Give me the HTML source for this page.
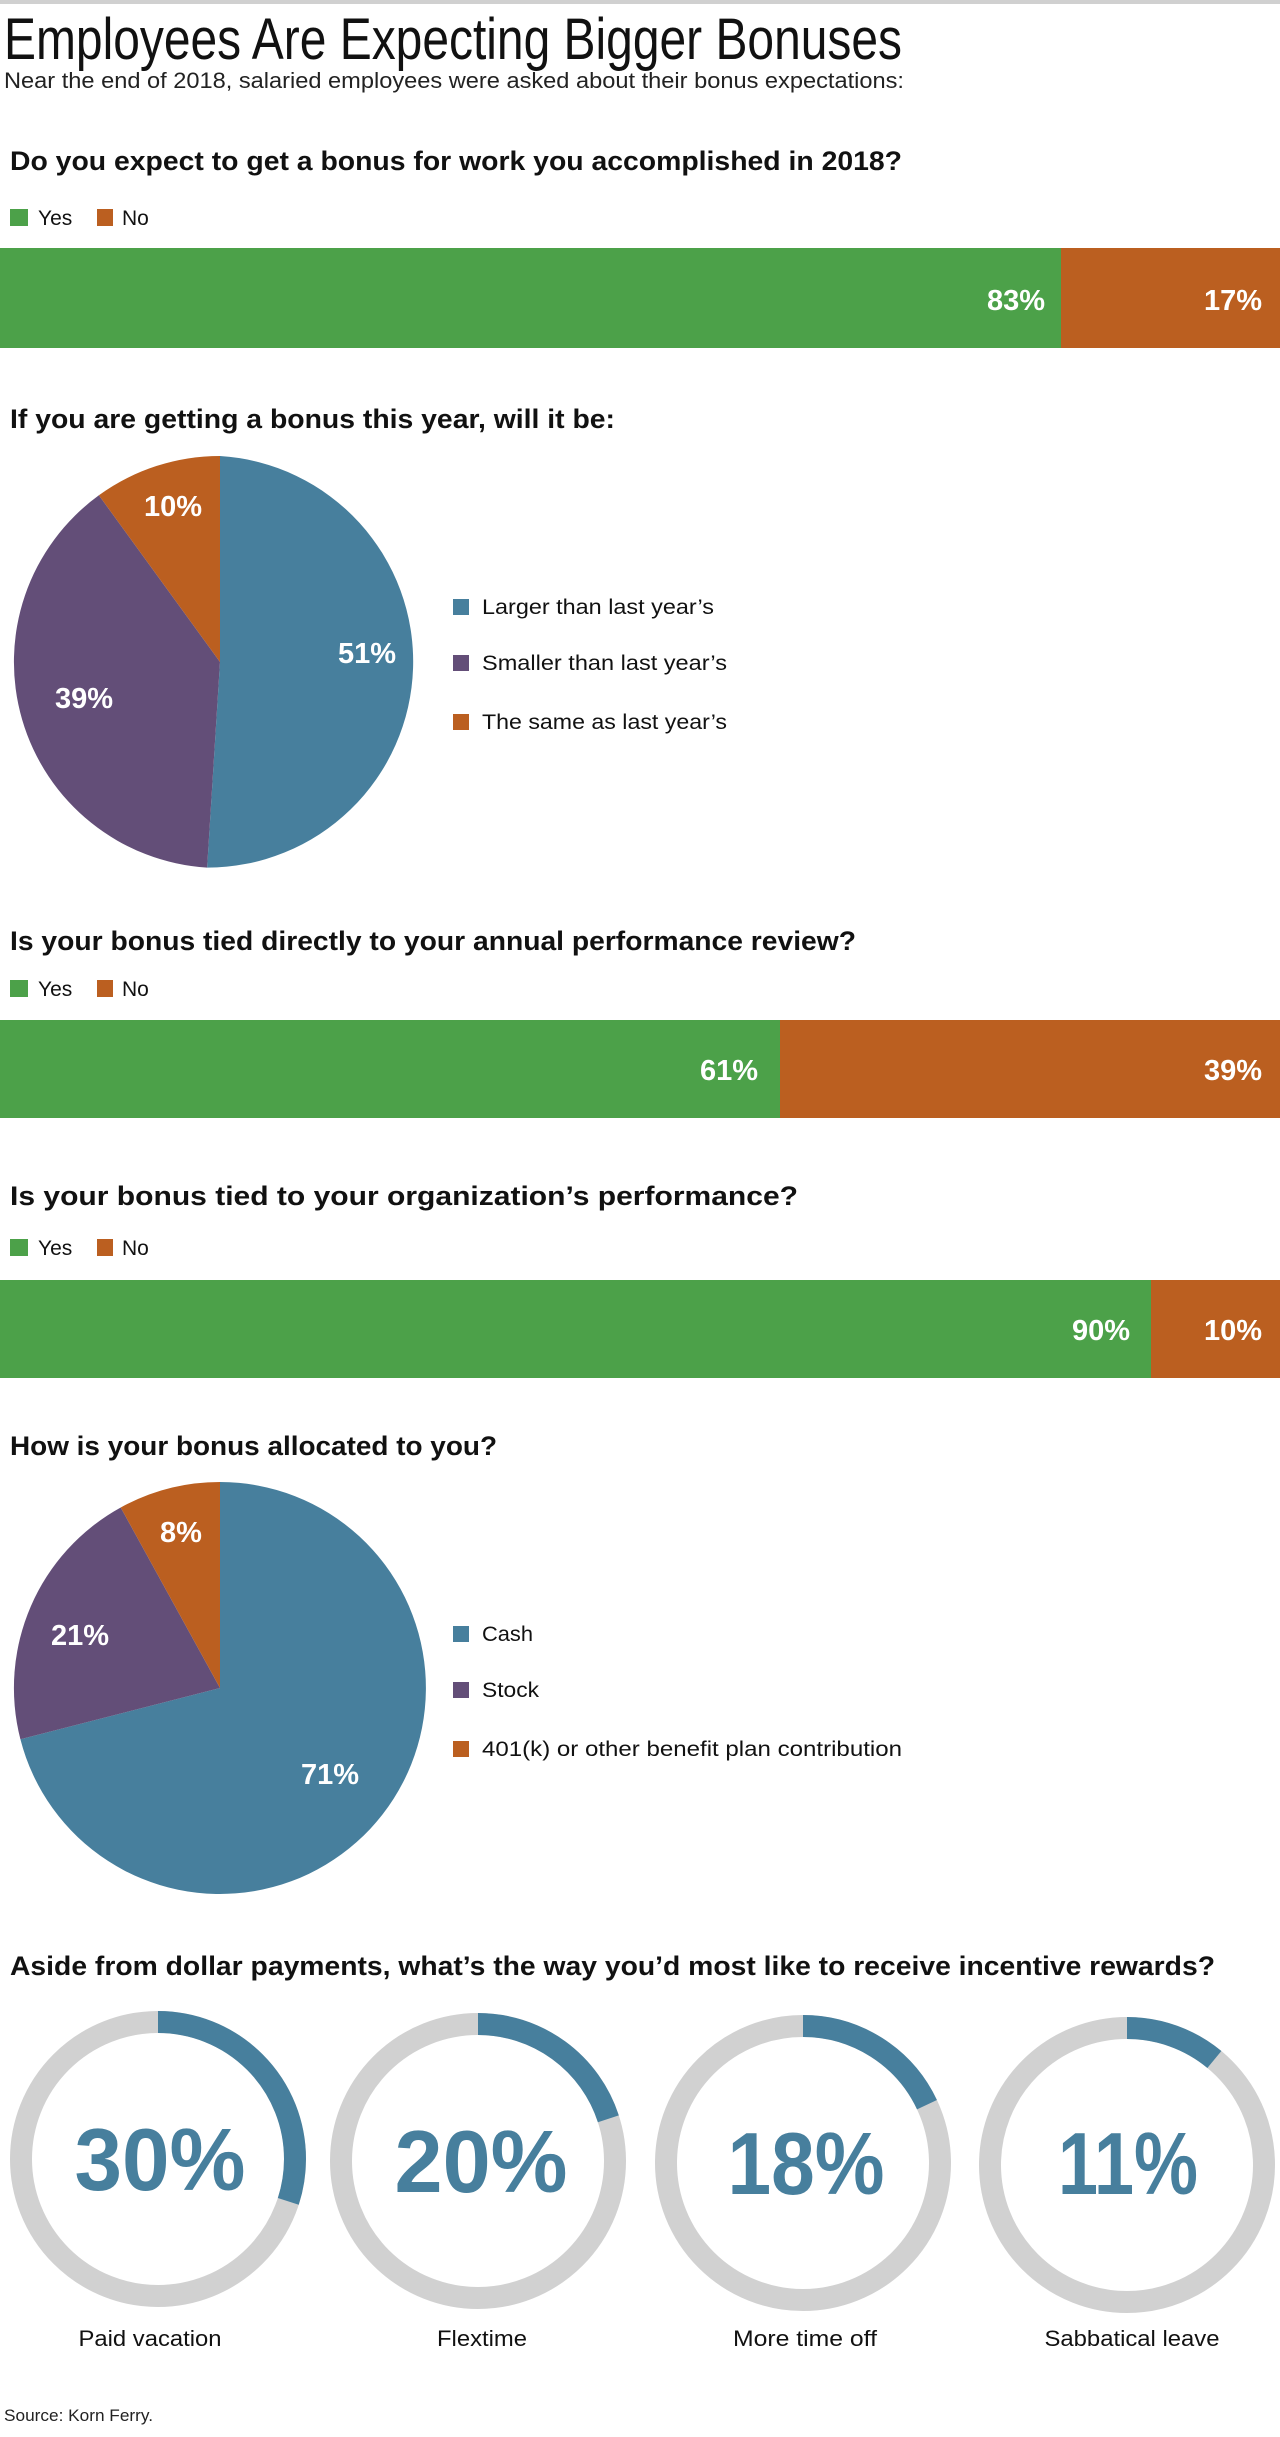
<!DOCTYPE html>
<html><head><meta charset="utf-8"><style>
html,body{margin:0;padding:0;background:#fff;}
svg{display:block;}
text{font-family:"Liberation Sans Narrow","Liberation Sans",sans-serif;}
.b{font-weight:bold;}
</style></head><body>
<svg width="1280" height="2437" viewBox="0 0 1280 2437" xmlns="http://www.w3.org/2000/svg">
<rect x="0" y="0" width="1280" height="4" fill="#d0d0d0"/>
<text x="4" y="59" font-size="58" fill="#111" textLength="898" lengthAdjust="spacingAndGlyphs">Employees Are Expecting Bigger Bonuses</text>
<text x="4" y="88" font-size="22" fill="#222" textLength="900" lengthAdjust="spacingAndGlyphs">Near the end of 2018, salaried employees were asked about their bonus expectations:</text>

<!-- Q1 -->
<text class="b" x="10" y="170" font-size="27" fill="#111" textLength="892" lengthAdjust="spacingAndGlyphs">Do you expect to get a bonus for work you accomplished in 2018?</text>
<rect x="10" y="209" width="18" height="17" fill="#4ca149"/><text x="38" y="225" font-size="21" fill="#111">Yes</text>
<rect x="97" y="209" width="16" height="17" fill="#bb5f20"/><text x="122" y="225" font-size="21" fill="#111">No</text>
<rect x="0" y="248" width="1061" height="100" fill="#4ca149"/>
<rect x="1061" y="248" width="219" height="100" fill="#bb5f20"/>
<text class="b" x="1045" y="310" font-size="29" fill="#fff" text-anchor="end">83%</text>
<text class="b" x="1262" y="310" font-size="29" fill="#fff" text-anchor="end">17%</text>

<!-- Q2 -->
<text class="b" x="10" y="428" font-size="27" fill="#111" textLength="605" lengthAdjust="spacingAndGlyphs">If you are getting a bonus this year, will it be:</text>
<path d="M220,662 L220,456 A206,206 0 0 1 207.1,867.6 Z" fill="#477f9d"/>
<path d="M220,662 L207.1,867.6 A206,206 0 0 1 98.9,495.3 Z" fill="#634e78"/>
<path d="M220,662 L98.9,495.3 A206,206 0 0 1 220,456 Z" fill="#bb5f20"/>
<text class="b" x="367" y="663" font-size="29" fill="#fff" text-anchor="middle">51%</text>
<text class="b" x="84" y="708" font-size="29" fill="#fff" text-anchor="middle">39%</text>
<text class="b" x="173" y="516" font-size="29" fill="#fff" text-anchor="middle">10%</text>
<rect x="453" y="599" width="16" height="16" fill="#477f9d"/><text x="482" y="614" font-size="21" fill="#111" textLength="232" lengthAdjust="spacingAndGlyphs">Larger than last year’s</text>
<rect x="453" y="655" width="16" height="16" fill="#634e78"/><text x="482" y="670" font-size="21" fill="#111" textLength="245" lengthAdjust="spacingAndGlyphs">Smaller than last year’s</text>
<rect x="453" y="714" width="16" height="16" fill="#bb5f20"/><text x="482" y="729" font-size="21" fill="#111" textLength="245" lengthAdjust="spacingAndGlyphs">The same as last year’s</text>

<!-- Q3 -->
<text class="b" x="10" y="950" font-size="27" fill="#111" textLength="846" lengthAdjust="spacingAndGlyphs">Is your bonus tied directly to your annual performance review?</text>
<rect x="10" y="980" width="18" height="17" fill="#4ca149"/><text x="38" y="996" font-size="21" fill="#111">Yes</text>
<rect x="97" y="980" width="16" height="17" fill="#bb5f20"/><text x="122" y="996" font-size="21" fill="#111">No</text>
<rect x="0" y="1020" width="780" height="98" fill="#4ca149"/>
<rect x="780" y="1020" width="500" height="98" fill="#bb5f20"/>
<text class="b" x="758" y="1080" font-size="29" fill="#fff" text-anchor="end">61%</text>
<text class="b" x="1262" y="1080" font-size="29" fill="#fff" text-anchor="end">39%</text>

<!-- Q4 -->
<text class="b" x="10" y="1205" font-size="27" fill="#111" textLength="788" lengthAdjust="spacingAndGlyphs">Is your bonus tied to your organization’s performance?</text>
<rect x="10" y="1239" width="18" height="17" fill="#4ca149"/><text x="38" y="1255" font-size="21" fill="#111">Yes</text>
<rect x="97" y="1239" width="16" height="17" fill="#bb5f20"/><text x="122" y="1255" font-size="21" fill="#111">No</text>
<rect x="0" y="1280" width="1151" height="98" fill="#4ca149"/>
<rect x="1151" y="1280" width="129" height="98" fill="#bb5f20"/>
<text class="b" x="1130" y="1340" font-size="29" fill="#fff" text-anchor="end">90%</text>
<text class="b" x="1262" y="1340" font-size="29" fill="#fff" text-anchor="end">10%</text>

<!-- Q5 -->
<text class="b" x="10" y="1455" font-size="27" fill="#111" textLength="487" lengthAdjust="spacingAndGlyphs">How is your bonus allocated to you?</text>
<path d="M220,1688 L220,1482 A206,206 0 1 1 20.4,1739.3 Z" fill="#477f9d"/>
<path d="M220,1688 L20.4,1739.3 A206,206 0 0 1 120.7,1507.5 Z" fill="#634e78"/>
<path d="M220,1688 L120.7,1507.5 A206,206 0 0 1 220,1482 Z" fill="#bb5f20"/>
<text class="b" x="330" y="1784" font-size="29" fill="#fff" text-anchor="middle">71%</text>
<text class="b" x="80" y="1645" font-size="29" fill="#fff" text-anchor="middle">21%</text>
<text class="b" x="181" y="1542" font-size="29" fill="#fff" text-anchor="middle">8%</text>
<rect x="453" y="1626" width="16" height="16" fill="#477f9d"/><text x="482" y="1641" font-size="21" fill="#111" textLength="51" lengthAdjust="spacingAndGlyphs">Cash</text>
<rect x="453" y="1682" width="16" height="16" fill="#634e78"/><text x="482" y="1697" font-size="21" fill="#111" textLength="57" lengthAdjust="spacingAndGlyphs">Stock</text>
<rect x="453" y="1741" width="16" height="16" fill="#bb5f20"/><text x="482" y="1756" font-size="21" fill="#111" textLength="420" lengthAdjust="spacingAndGlyphs">401(k) or other benefit plan contribution</text>

<!-- Q6 -->
<text class="b" x="10" y="1975" font-size="27" fill="#111" textLength="1205" lengthAdjust="spacingAndGlyphs">Aside from dollar payments, what’s the way you’d most like to receive incentive rewards?</text>
<g fill="none" stroke-width="22">
<circle cx="158" cy="2159" r="137" stroke="#d1d1d1"/>
<circle cx="158" cy="2159" r="137" stroke="#477f9d" stroke-dasharray="258.2 1000" transform="rotate(-90 158 2159)"/>
<circle cx="478" cy="2161" r="137" stroke="#d1d1d1"/>
<circle cx="478" cy="2161" r="137" stroke="#477f9d" stroke-dasharray="172.2 1000" transform="rotate(-90 478 2161)"/>
<circle cx="803" cy="2163" r="137" stroke="#d1d1d1"/>
<circle cx="803" cy="2163" r="137" stroke="#477f9d" stroke-dasharray="154.9 1000" transform="rotate(-90 803 2163)"/>
<circle cx="1127" cy="2165" r="137" stroke="#d1d1d1"/>
<circle cx="1127" cy="2165" r="137" stroke="#477f9d" stroke-dasharray="94.7 1000" transform="rotate(-90 1127 2165)"/>
</g>
<g class="b" font-size="88" fill="#477f9d" text-anchor="middle">
<text x="160" y="2190" textLength="171" lengthAdjust="spacingAndGlyphs">30%</text>
<text x="481" y="2192" textLength="173" lengthAdjust="spacingAndGlyphs">20%</text>
<text x="806" y="2194" textLength="157" lengthAdjust="spacingAndGlyphs">18%</text>
<text x="1128" y="2194" textLength="140" lengthAdjust="spacingAndGlyphs">11%</text>
</g>
<g font-size="22" fill="#111" text-anchor="middle">
<text x="150" y="2346" textLength="143" lengthAdjust="spacingAndGlyphs">Paid vacation</text>
<text x="482" y="2346" textLength="90" lengthAdjust="spacingAndGlyphs">Flextime</text>
<text x="805" y="2346" textLength="144" lengthAdjust="spacingAndGlyphs">More time off</text>
<text x="1132" y="2346" textLength="175" lengthAdjust="spacingAndGlyphs">Sabbatical leave</text>
</g>
<text x="4" y="2421" font-size="17" fill="#222" textLength="149" lengthAdjust="spacingAndGlyphs">Source: Korn Ferry.</text>
</svg>
</body></html>
